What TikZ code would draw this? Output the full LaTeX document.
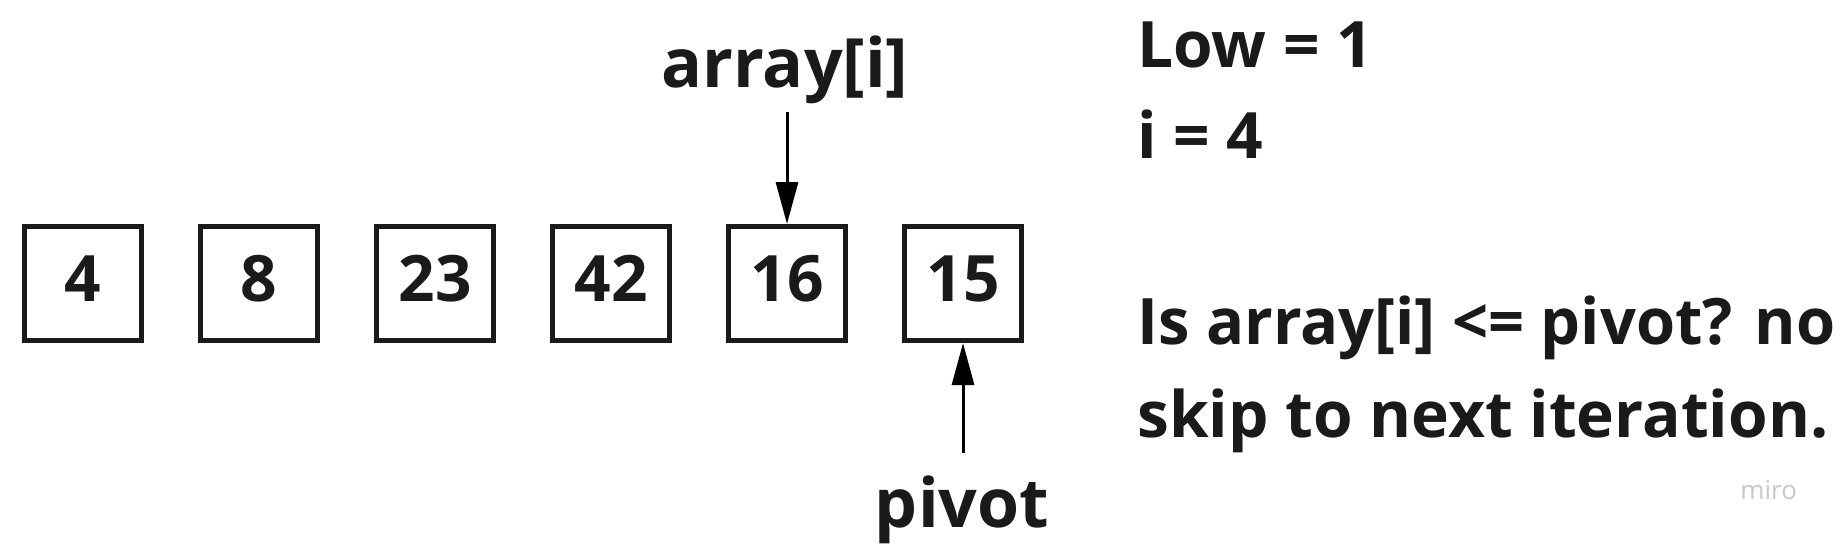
\documentclass[tikz,border=0pt]{standalone}
\usepackage{fontspec}
\setmainfont{Open Sans}
\usepackage{tikz}
\usepackage{xcolor}
\usepackage{graphicx}
\usetikzlibrary{positioning,arrows.meta}
\definecolor{inkdark}{HTML}{1A1A1A}
\definecolor{mirogrey}{HTML}{C6C7D1}
\tikzset{
  cell/.style={
    draw=inkdark, line width=2.5pt, inner sep=0pt,
    minimum width=58.5pt, minimum height=57pt,
    font=\fontsize{32}{38}\selectfont\bfseries, text=inkdark,
    text height=23pt, text depth=5.5pt,
  },
  ptrlbl/.style={anchor=base, inner xsep=0pt, font=\fontsize{34}{40}\selectfont\bfseries, text=inkdark},
  note/.style  ={anchor=base west, inner sep=0pt, font=\fontsize{32}{38}\selectfont\bfseries, text=inkdark},
  ptr/.style   ={-{Triangle[length=21pt, width=11pt]}, draw=black, line width=1.5pt},
  wmark/.style ={anchor=base west, inner sep=0pt, font=\fontsize{13}{15}\selectfont, text=mirogrey},
}
\begin{document}
\begin{tikzpicture}[x=0.5pt, y=-0.5pt, node distance=27pt]
\useasboundingbox (0,0) rectangle (1841,543);

% array cells
\node[cell] (c1) at (83,283.5) {4};
\node[cell, right=of c1] (c2) {8};
\node[cell, right=of c2] (c3) {23};
\node[cell, right=of c3] (c4) {42};
\node[cell, right=of c4] (c5) {16};
\node[cell, right=of c5] (c6) {15};

% pointers
\node[ptrlbl, text depth=5.5pt, inner ysep=7pt] (arr) at (785,87) {array[i]};
\node[ptrlbl, text height=25pt, inner ysep=12pt] (piv) at (962,527) {pivot};

\draw[ptr] (arr.south -| c5.north) -- (c5.north);
\draw[ptr] (piv.north -| c6.south) -- (c6.south);

% state notes
\node[note] (low)  at (1137,67)  {Low = 1};
\node[note] (iv)   at (1137,158) {i = 4};
\node[note] (test) at (1137,344) {\resizebox{349pt}{\height}{Is array[i] <= pivot? no}};
\node[note] (skip) at (1137,437) {skip to next iteration.};

\node[wmark] (miro) at (1740,499) {miro};

\end{tikzpicture}
\end{document}
